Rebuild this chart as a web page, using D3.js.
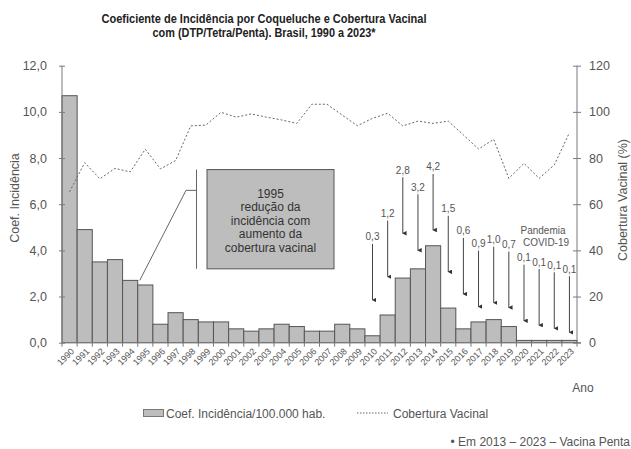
<!DOCTYPE html>
<html>
<head>
<meta charset="utf-8">
<script src="https://cdn.jsdelivr.net/npm/d3@7"></script>
<style>
  html, body { margin: 0; padding: 0; background: #fff; }
  svg { display: block; font-family: "Liberation Sans", Arial, sans-serif; }
</style>
</head>
<body>
<svg id="chart" width="631" height="449"></svg>
<script>
// anos 1990 a 2023
const anos = d3.range(1990, 2024)

// coeficiente de incidência por 100.000 hab.
const incidencia = [
  10.7, 4.9, 3.5, 3.6, 2.7, 2.5, 0.8, 1.3, 1.0, 0.9,
  0.9, 0.6, 0.5, 0.6, 0.8, 0.7, 0.5, 0.5, 0.8, 0.6,
  0.3, 1.2, 2.8, 3.2, 4.2, 1.5, 0.6, 0.9, 1.0, 0.7,
  0.1, 0.1, 0.1, 0.1
]

// cobertura vacinal (%)
const cobertura = [
  65.4, 78, 71, 75.5, 74, 83.8, 75.3, 78.9, 93.9, 94.3,
  99.8, 97.7, 99.1, 97.7, 96.5, 95, 103.3, 103.3, 98.6, 94,
  97.2, 99.4, 93.9, 96, 95, 96, 90, 83.9, 88.1, 71.2,
  77.7, 71.2, 77, 91
]

const yTicks = [0, 2, 4, 6, 8, 10, 12]
const y2Ticks = [0, 20, 40, 60, 80, 100, 120]

// anotações (setas) 2010-2023, ponta da seta em unidades do eixo esquerdo
const setaAnos = d3.range(2010, 2024)
const setaPonta = [1.85, 2.86, 4.74, 4.0, 4.88, 3.07, 2.11, 1.56, 1.73, 1.52, 0.95, 0.76, 0.62, 0.45]

const caixaTexto = ["1995", "redução da", "incidência com", "aumento da", "cobertura vacinal"]

const svg = d3.select("#chart")
const margin = { top: 65.7, right: 54, bottom: 106.3, left: 62 }
const width = 631, height = 449
const x0 = margin.left, x1 = width - margin.right
const yBase = height - margin.bottom

const x = d3.scaleBand().domain(anos).range([x0, x1]).padding(0)
const y = d3.scaleLinear().domain([0, 12]).range([yBase, margin.top])
const y2 = d3.scaleLinear().domain([0, 120]).range([yBase, margin.top])
const fmt = v => d3.format(".1f")(v).replace(".", ",")
const axisColor = "#7a7a7a"
const textColor = "#555"

// title
svg.append("g")
  .attr("font-weight", "bold")
  .attr("font-size", 12)
  .attr("fill", "#222")
  .attr("text-anchor", "middle")
  .call(g => g.append("text").attr("x", 264).attr("y", 22.5)
    .attr("textLength", 325).attr("lengthAdjust", "spacingAndGlyphs")
    .text("Coeficiente de Incidência por Coqueluche e Cobertura Vacinal"))
  .call(g => g.append("text").attr("x", 264).attr("y", 36.5)
    .attr("textLength", 223).attr("lengthAdjust", "spacingAndGlyphs")
    .text("com (DTP/Tetra/Penta). Brasil, 1990 a 2023*"))

// bars
svg.append("g")
  .attr("fill", "#bdbdbd")
  .attr("stroke", "#555")
  .attr("stroke-width", 1)
  .selectAll("rect")
  .data(anos)
  .join("rect")
  .attr("x", d => x(d))
  .attr("width", x.bandwidth())
  .attr("y", (d, i) => y(incidencia[i]))
  .attr("height", (d, i) => yBase - y(incidencia[i]))

// coverage line
const line = d3.line()
  .x((d, i) => x(anos[i]) + x.bandwidth() / 2)
  .y(d => y2(d))

svg.append("path")
  .datum(cobertura)
  .attr("fill", "none")
  .attr("stroke", "#666")
  .attr("stroke-width", 1)
  .attr("stroke-dasharray", "2,2")
  .attr("d", line)

// left axis
const yAxis = g => g
  .attr("transform", `translate(${x0},0)`)
  .call(d3.axisLeft(y).tickValues(yTicks).tickSize(3).tickPadding(12).tickFormat(fmt))
  .call(g => g.selectAll(".tick line").attr("x2", -3).attr("x1", 3).attr("stroke", axisColor))
  .call(g => g.select(".domain").attr("stroke", axisColor).attr("d", `M0,${margin.top}V${yBase}`))
  .call(g => g.selectAll(".tick text").attr("fill", textColor).attr("font-size", 12.5)
    .attr("font-family", "Liberation Sans, Arial, sans-serif"))

// right axis
const y2Axis = g => g
  .attr("transform", `translate(${x1},0)`)
  .call(d3.axisRight(y2).tickValues(y2Ticks).tickSize(4).tickPadding(8))
  .call(g => g.selectAll(".tick line").attr("x1", -4).attr("stroke", axisColor))
  .call(g => g.select(".domain").attr("stroke", axisColor).attr("d", `M0,${margin.top}V${yBase}`))
  .call(g => g.selectAll(".tick text").attr("fill", textColor).attr("font-size", 12.5)
    .attr("font-family", "Liberation Sans, Arial, sans-serif"))

svg.append("g").call(yAxis)
svg.append("g").call(y2Axis)

// x axis
const xg = svg.append("g")
xg.append("line")
  .attr("x1", x0).attr("x2", x1 + 4)
  .attr("y1", yBase).attr("y2", yBase)
  .attr("stroke", axisColor)
xg.selectAll(".xt")
  .data(anos.concat([2024]))
  .join("line")
  .attr("class", "xt")
  .attr("x1", d => x0 + (d - 1990) * x.step())
  .attr("x2", d => x0 + (d - 1990) * x.step())
  .attr("y1", yBase).attr("y2", yBase + 4)
  .attr("stroke", axisColor)
xg.selectAll("text")
  .data(anos)
  .join("text")
  .attr("transform", d => `translate(${x(d) + x.bandwidth() / 2 + 3},${yBase + 7}) rotate(-45)`)
  .attr("text-anchor", "end")
  .attr("dy", "0.35em")
  .attr("font-size", 9)
  .attr("fill", textColor)
  .attr("textLength", 20)
  .attr("lengthAdjust", "spacingAndGlyphs")
  .text(d => d)

// axis titles
svg.append("text")
  .attr("transform", `translate(19,198) rotate(-90)`)
  .attr("text-anchor", "middle")
  .attr("font-size", 12.5)
  .attr("fill", textColor)
  .text("Coef. Incidência")

svg.append("text")
  .attr("transform", `translate(627,200) rotate(-90)`)
  .attr("text-anchor", "middle")
  .attr("font-size", 12.5)
  .attr("fill", textColor)
  .text("Cobertura Vacinal (%)")

svg.append("text")
  .attr("x", 583).attr("y", 391.5)
  .attr("text-anchor", "middle")
  .attr("font-size", 12)
  .attr("fill", textColor)
  .text("Ano")

// 1995 box annotation
const boxTop = y(7.5), boxBottom = y(3.2)
const ann = svg.append("g")
ann.append("rect")
  .attr("x", 207).attr("y", boxTop)
  .attr("width", 127).attr("height", boxBottom - boxTop)
  .attr("fill", "#bdbdbd")
  .attr("stroke", "#555")
ann.append("line")
  .attr("x1", 196.5).attr("x2", 196.5)
  .attr("y1", boxTop).attr("y2", boxBottom)
  .attr("stroke", "#666")
ann.append("polyline")
  .attr("points", `${x(1995) + 2},${y(2.7)} ${186},${y(6.6)} ${196.5},${y(6.6)}`)
  .attr("fill", "none")
  .attr("stroke", "#666")
ann.selectAll("text.box")
  .data(caixaTexto)
  .join("text")
  .attr("class", "box")
  .attr("x", 270.5)
  .attr("y", (d, i) => 197.5 + i * 13.6)
  .attr("text-anchor", "middle")
  .attr("font-size", 12)
  .attr("fill", "#333")
  .text(d => d)

// arrows
svg.append("defs").append("marker")
  .attr("id", "head")
  .attr("viewBox", "0 0 6 6")
  .attr("refX", 3).attr("refY", 5)
  .attr("markerWidth", 4.5).attr("markerHeight", 4.5)
  .attr("orient", "auto-start-reverse")
  .append("path")
  .attr("d", "M0,0L3,6L6,0Z")
  .attr("fill", "#333")

const setaLen = 2.43
const setas = svg.append("g")
setas.selectAll("line")
  .data(setaAnos)
  .join("line")
  .attr("x1", d => x(d) + x.bandwidth() / 2)
  .attr("x2", d => x(d) + x.bandwidth() / 2)
  .attr("y1", (d, i) => y(setaPonta[i] + setaLen))
  .attr("y2", (d, i) => y(setaPonta[i]))
  .attr("stroke", "#444")
  .attr("stroke-width", 1)
  .attr("marker-end", "url(#head)")
setas.selectAll("text")
  .data(setaAnos)
  .join("text")
  .attr("x", d => x(d) + x.bandwidth() / 2)
  .attr("y", (d, i) => y(setaPonta[i] + setaLen) - 3.5)
  .attr("text-anchor", "middle")
  .attr("font-size", 10)
  .attr("fill", textColor)
  .text(d => fmt(incidencia[d - 1990]))

svg.append("g")
  .attr("font-size", 10)
  .attr("fill", textColor)
  .attr("text-anchor", "middle")
  .call(g => g.append("text").attr("x", 543).attr("y", 233.5).text("Pandemia"))
  .call(g => g.append("text").attr("x", 546).attr("y", 246).text("COVID-19"))

// legend
const leg = svg.append("g").attr("font-size", 12).attr("fill", textColor)
leg.append("rect")
  .attr("x", 143.5).attr("y", 409.5).attr("width", 20).attr("height", 7)
  .attr("fill", "#bdbdbd").attr("stroke", "#777")
leg.append("text").attr("x", 166).attr("y", 417.5).text("Coef. Incidência/100.000 hab.")
leg.append("line")
  .attr("x1", 357).attr("x2", 388).attr("y1", 413).attr("y2", 413)
  .attr("stroke", "#666").attr("stroke-dasharray", "1.5,1.5")
leg.append("text").attr("x", 393).attr("y", 417.5).text("Cobertura Vacinal")
leg.append("text").attr("x", 630).attr("y", 446).attr("text-anchor", "end")
  .text("• Em 2013 – 2023 – Vacina Penta")
</script>
</body>
</html>
